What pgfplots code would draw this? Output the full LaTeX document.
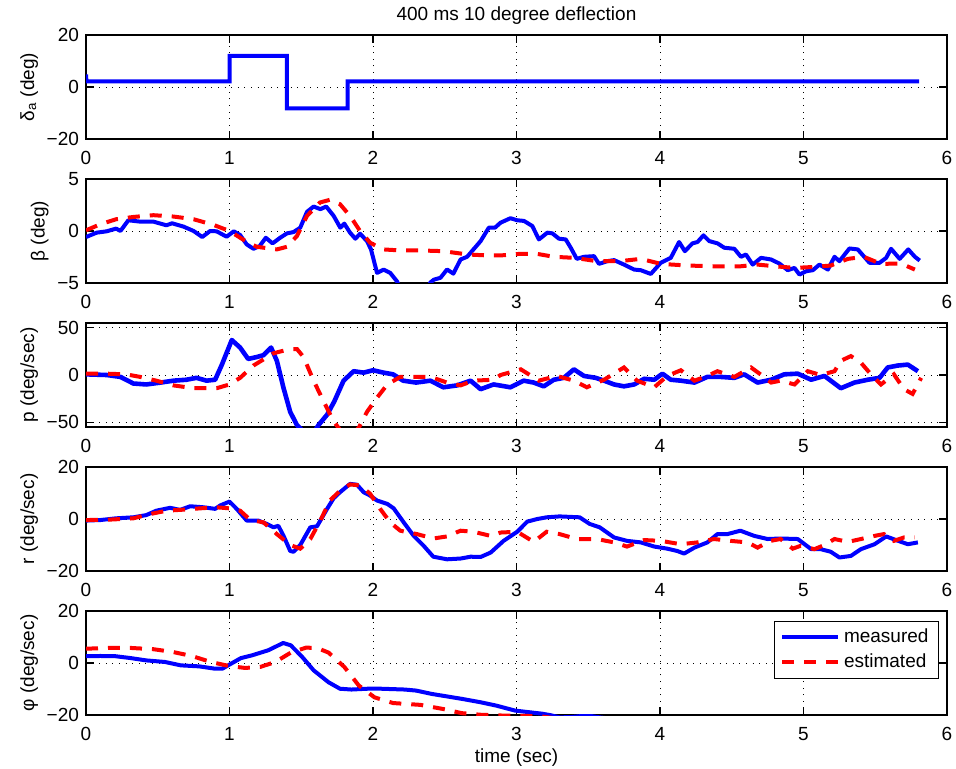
\documentclass[border=0pt]{standalone}
\usepackage{fontspec}
\setmainfont{Liberation Sans}
\usepackage{pgfplots}
\pgfplotsset{compat=1.18}
\newcommand\fs{\fontsize{9.5pt}{11pt}\selectfont}
\definecolor{mblue}{RGB}{0,0,255}
\definecolor{mred}{RGB}{255,0,0}
\pgfplotsset{
  panel/.style={
    scale only axis, width=430.5pt, height=52pt,
    anchor=north west,
    xmin=0, xmax=6, xtick={0,1,2,3,4,5,6}, xticklabels={0,1,2,3,4,5,6},
    tick align=inside, major tick length=4pt,
    grid=major,
    major grid style={black, line width=0.4pt, dash pattern=on 0.5pt off 2.8pt},
    axis line style={black, line width=0.6pt},
    tick style={black, line width=0.6pt},
    tick label style={font=\fs},
    xticklabel style={yshift=-2.8pt},
    label style={font=\fs},
    ylabel style={inner sep=0.8pt},
  },
  meas/.style={color=mblue, line width=2pt, line join=round},
  est/.style={color=mred, line width=2pt, dash pattern=on 6pt off 5pt},
}
\begin{document}
\begin{tikzpicture}
\path[use as bounding box] (-43pt,17.5pt) rectangle (435pt,-367pt);

% aileron deflection input
\begin{axis}[panel, at={(0pt,0pt)},
  ymin=-20, ymax=20, ytick={-20,0,20}, yticklabels={−20,0,20},
  ylabel={δ\textsubscript{a} (deg)},
  title={400 ms 10 degree deflection},
  title style={font=\fs, at={(0.5,1)}, anchor=base, yshift=1.2pt}]
\addplot[meas, line join=miter] coordinates {
(0,4.8) (0.003,2.2) (1.0,2.2) (1.0,12) (1.4,12) (1.4,-8.2)
(1.823,-8.2) (1.823,2.2) (5.806,2.2)};
\end{axis}

% sideslip angle
\begin{axis}[panel, at={(0pt,-72pt)},
  ymin=-5, ymax=5, ytick={-5,0,5}, yticklabels={−5,0,5},
  ylabel={β (deg)}]
\addplot[meas] coordinates {
(0,-0.58) (0.074,-0.16) (0.144,-0.03) (0.21,0.23) (0.24,0) (0.295,1.03)
(0.377,0.9) (0.47,0.9) (0.56,0.55) (0.6,0.74) (0.68,0.42) (0.75,0)
(0.81,-0.58) (0.865,0) (0.91,-0.03) (0.98,-0.55) (1.03,-0.03) (1.074,-0.39)
(1.12,-1.29) (1.167,-1.71) (1.21,-1.45) (1.253,-0.65) (1.30,-1.19) (1.353,-0.65)
(1.4,-0.23) (1.447,-0.1) (1.493,0.32) (1.54,1.84) (1.586,2.35) (1.633,2.1)
(1.674,2.35) (1.726,1.45) (1.772,0.32) (1.8,0.71) (1.84,-0.16) (1.877,-0.74)
(1.91,-0.26) (1.958,-0.97) (1.986,-1.77) (2.028,-4.03) (2.074,-3.71) (2.12,-4.03)
(2.167,-4.84) (2.2,-5.8) (2.26,-6.6) (2.33,-6.6) (2.38,-5.6) (2.4,-4.95)
(2.424,-4.68) (2.47,-4.5) (2.516,-3.7) (2.56,-4.1) (2.61,-2.74) (2.656,-2.48)
(2.70,-1.77) (2.75,-0.97) (2.807,0.32) (2.85,0.32) (2.889,0.8) (2.958,1.23)
(3.005,1.03) (3.052,0.97) (3.11,0.48) (3.156,-0.81) (3.215,-0.16) (3.25,-0.23)
(3.296,-0.74) (3.343,-0.81) (3.378,-1.61) (3.42,-2.68) (3.47,-2.48) (3.54,-2.42)
(3.575,-3.16) (3.633,-2.9) (3.68,-2.8) (3.749,-3.23) (3.82,-3.71) (3.866,-3.77)
(3.936,-4.13) (4.005,-3.06) (4.075,-2.58) (4.133,-1.06) (4.173,-1.94) (4.226,-1.19)
(4.261,-1.06) (4.303,-0.42) (4.343,-0.97) (4.401,-1.19) (4.448,-1.61) (4.518,-1.71)
(4.564,-2.48) (4.599,-2.26) (4.646,-3.23) (4.704,-2.58) (4.774,-2.74) (4.832,-3.13)
(4.89,-3.77) (4.937,-3.55) (4.972,-4.19) (5.018,-3.87) (5.065,-3.77) (5.111,-3.23)
(5.17,-3.71) (5.216,-2.48) (5.25,-2.9) (5.32,-1.68) (5.378,-1.77) (5.46,-3.06)
(5.53,-3.06) (5.576,-2.58) (5.61,-1.71) (5.67,-2.68) (5.73,-1.77) (5.776,-2.48)
(5.81,-2.84)};
\addplot[est] coordinates {
(0,0.06) (0.1,0.65) (0.21,1.13) (0.33,1.35) (0.47,1.52) (0.61,1.39)
(0.75,1.13) (0.89,0.58) (1.0,0) (1.1,-0.87) (1.19,-1.52) (1.33,-1.77)
(1.4,-1.52) (1.47,-0.48) (1.54,1.45) (1.63,2.74) (1.70,3.0) (1.77,2.58)
(1.84,1.45) (1.91,0) (1.98,-1.13) (2.07,-1.77) (2.19,-1.87) (2.33,-1.87)
(2.49,-1.94) (2.66,-2.26) (2.80,-2.35) (2.889,-2.35) (3.03,-2.19) (3.14,-2.19)
(3.26,-2.48) (3.4,-2.58) (3.56,-2.9) (3.72,-2.9) (3.866,-2.68) (4.005,-3.16)
(4.19,-3.32) (4.37,-3.39) (4.564,-3.39) (4.68,-3.23) (4.8,-3.39) (4.94,-3.55)
(5.08,-3.45) (5.19,-3.32) (5.31,-2.68) (5.42,-2.48) (5.54,-3.16) (5.68,-3.13)
(5.776,-3.71)};
\end{axis}

% roll rate
\begin{axis}[panel, at={(0pt,-144pt)},
  ymin=-55, ymax=55, ytick={-50,0,50}, yticklabels={−50,0,50},
  ylabel={p (deg/sec)}]
\addplot[meas, line width=2.3pt] coordinates {
(0,0.7) (0.144,0) (0.24,-2) (0.33,-9) (0.42,-10) (0.52,-8) (0.61,-6)
(0.70,-5) (0.77,-3) (0.84,-6) (0.9,-5) (0.947,11) (1.016,37) (1.074,29)
(1.13,17) (1.19,19) (1.237,21) (1.29,29) (1.33,15) (1.377,-14) (1.423,-39)
(1.47,-53) (1.51,-59) (1.56,-61) (1.6,-58) (1.62,-53) (1.68,-42) (1.73,-28)
(1.795,-6) (1.865,4) (1.935,2.5) (2.0,5) (2.074,2.5) (2.14,0.7) (2.21,-6)
(2.3,-8) (2.4,-6) (2.49,-13) (2.586,-11) (2.68,-6) (2.75,-15) (2.84,-10)
(2.958,-13) (3.05,-6) (3.12,-8) (3.19,-12) (3.26,-5) (3.33,-3) (3.4,6)
(3.47,-1) (3.552,-3) (3.61,-6) (3.68,-10) (3.749,-12) (3.82,-10) (3.89,-4)
(3.96,-5) (4.017,1.4) (4.075,-5) (4.145,-6) (4.24,-8) (4.33,-2) (4.42,-2)
(4.518,-3) (4.587,0.7) (4.68,-8) (4.774,-5) (4.866,0.7) (4.96,1.4) (5.053,-5)
(5.146,-1) (5.26,-14) (5.355,-8) (5.448,-5) (5.53,-3) (5.587,8) (5.657,10)
(5.727,11) (5.797,4)};
\addplot[est] coordinates {
(0,1.4) (0.144,1.4) (0.28,0.7) (0.377,-2) (0.49,-6) (0.61,-11) (0.75,-14)
(0.91,-14) (1.0,-10) (1.074,-3) (1.167,10) (1.307,23) (1.423,27.5) (1.47,27.5)
(1.516,19) (1.586,-6) (1.656,-28) (1.726,-49) (1.77,-58) (1.83,-63) (1.87,-60)
(1.9,-56) (1.958,-39) (2.028,-24) (2.1,-10) (2.19,-2) (2.28,-2) (2.4,-2)
(2.516,-8) (2.61,-11) (2.70,-6) (2.84,-5) (2.889,0) (3.03,6) (3.156,-6)
(3.28,-1) (3.4,-6) (3.49,-13) (3.61,-5) (3.749,8) (3.84,-6) (3.96,-13)
(4.05,-1) (4.145,5) (4.24,-6) (4.33,-1) (4.4,4) (4.518,-2) (4.634,8)
(4.70,0.7) (4.774,-8) (4.84,-6) (4.937,-10) (5.03,4) (5.12,0) (5.216,4)
(5.26,15) (5.33,20) (5.4,13) (5.47,0.7) (5.54,-10) (5.63,0.7) (5.7,-15)
(5.76,-20) (5.82,-3)};
\end{axis}

% yaw rate
\begin{axis}[panel, at={(0pt,-216pt)},
  ymin=-20, ymax=20, ytick={-20,0,20}, yticklabels={−20,0,20},
  ylabel={r (deg/sec)}]
\addplot[meas] coordinates {
(0,-0.6) (0.1,-0.4) (0.21,0.26) (0.33,0.65) (0.42,1.5) (0.49,3.2) (0.586,4.3)
(0.656,3.5) (0.726,4.9) (0.82,4.5) (0.9,3.9) (0.935,5.2) (1.0,6.7) (1.05,3.9)
(1.12,-0.6) (1.2,-0.6) (1.26,-1.9) (1.307,-3.2) (1.34,-2.6) (1.377,-6.5)
(1.423,-12.3) (1.447,-12.6) (1.493,-10) (1.563,-3.2) (1.61,-2.8) (1.68,3.9)
(1.726,8) (1.77,10.3) (1.84,13.5) (1.888,13.2) (1.935,10.3) (1.98,9) (2.028,7.1)
(2.1,5.8) (2.144,4.1) (2.214,-1.3) (2.284,-6.5) (2.353,-10.3) (2.42,-14.5)
(2.516,-15.5) (2.61,-15.2) (2.68,-14.5) (2.75,-14.6) (2.82,-12.9) (2.91,-8.4)
(3.005,-4.9) (3.075,-1) (3.145,0) (3.21,0.65) (3.3,1) (3.44,0.65) (3.51,-1.9)
(3.58,-3.2) (3.68,-7.1) (3.77,-8.4) (3.866,-9) (3.96,-10.6) (4.05,-11.4)
(4.12,-12.3) (4.168,-13.3) (4.24,-11) (4.33,-9) (4.4,-5.8) (4.47,-5.8)
(4.56,-4.5) (4.657,-6.5) (4.75,-7.7) (4.84,-7.5) (4.96,-7.7) (5.053,-11.6)
(5.12,-11.6) (5.19,-12.6) (5.25,-14.8) (5.33,-14.2) (5.4,-11.6) (5.495,-9.7)
(5.576,-6.7) (5.66,-8.4) (5.727,-9.7) (5.797,-9)};
\addplot[est] coordinates {
(0,-0.4) (0.144,-0.3) (0.33,0.26) (0.446,1.9) (0.563,3.2) (0.68,3.6)
(0.795,4.1) (0.91,4.5) (1.0,4.1) (1.074,3.2) (1.144,-0.3) (1.237,-1.3)
(1.33,-5.8) (1.423,-10) (1.493,-11.4) (1.563,-7.7) (1.633,-0.6) (1.7,7.1)
(1.772,11) (1.84,13.3) (1.91,12.9) (1.98,9.7) (2.05,3.9) (2.12,-1.3)
(2.19,-4.5) (2.306,-5.8) (2.42,-7.5) (2.516,-6.7) (2.61,-4.5) (2.70,-4.9)
(2.82,-6.5) (2.89,-5.2) (3.005,-4.9) (3.12,-8.8) (3.21,-4.9) (3.3,-5.8)
(3.42,-7.7) (3.56,-7.7) (3.68,-9) (3.77,-10.6) (3.89,-8.1) (4.005,-8.4)
(4.145,-9.7) (4.26,-9) (4.377,-7.7) (4.49,-8.4) (4.61,-9) (4.68,-11)
(4.77,-8.4) (4.84,-7.7) (4.925,-11.4) (4.98,-10.3) (5.076,-11.6) (5.146,-10)
(5.216,-7.7) (5.31,-8.8) (5.4,-7.7) (5.495,-6.5) (5.56,-5.8) (5.63,-8.4)
(5.70,-7.1) (5.776,-7.1)};
\end{axis}

% bank angle
\begin{axis}[panel, at={(0pt,-288pt)},
  ymin=-20, ymax=20, ytick={-20,0,20}, yticklabels={−20,0,20},
  ylabel={φ (deg/sec)},
  xlabel={time (sec)}, xlabel style={yshift=3pt},
  legend cell align=left,
  legend image code/.code={\draw[#1] (0pt,0pt) -- (28pt,0pt);},
  legend style={at={(1,1)}, anchor=north east, xshift=-4pt, yshift=-4.75pt,
    draw=black, line width=0.5pt, font=\fs, row sep=0pt}]
\addplot[meas] coordinates {
(0,2.6) (0.1,2.7) (0.207,2.6) (0.31,1.9) (0.42,1.0) (0.55,0.4) (0.66,-0.9)
(0.79,-1.3) (0.9,-2.2) (0.95,-2.2) (1.0,-0.6) (1.08,1.9) (1.16,3.0) (1.27,4.9)
(1.374,7.7) (1.427,6.8) (1.507,2.3) (1.586,-2.8) (1.69,-7.4) (1.77,-9.9)
(1.85,-10.2) (1.96,-9.9) (2.06,-9.9) (2.22,-10.2) (2.3,-10.6) (2.41,-11.9)
(2.51,-12.8) (2.62,-13.8) (2.75,-15.1) (2.86,-16.4) (2.99,-18.3) (3.1,-19)
(3.18,-19.5) (3.24,-20.1) (3.3,-20.9) (3.38,-20.8) (3.45,-20.4) (3.52,-20.4)
(3.58,-20.9) (3.7,-21.8) (4,-24) (4.5,-28) (5,-31) (5.8,-36)};
\addlegendentry{measured}
\addplot[est] coordinates {
(0,5.5) (0.154,5.8) (0.31,5.8) (0.47,5.3) (0.6,4.3) (0.737,2.7) (0.87,0.4)
(1.0,-1.2) (1.11,-1.9) (1.215,-1.5) (1.32,0.4) (1.427,4.0) (1.533,5.9)
(1.61,5.8) (1.69,4.0) (1.8,-1.5) (1.9,-8.6) (2.01,-13.2) (2.14,-15.4)
(2.33,-16.1) (2.49,-17.7) (2.62,-19.3) (2.75,-19.9) (2.9,-20.2) (3.05,-20.3)
(3.18,-20.6) (3.3,-21.5) (3.6,-24) (4,-27) (5,-32) (5.8,-36)};
\addlegendentry{estimated}
\end{axis}
\end{tikzpicture}
\end{document}
